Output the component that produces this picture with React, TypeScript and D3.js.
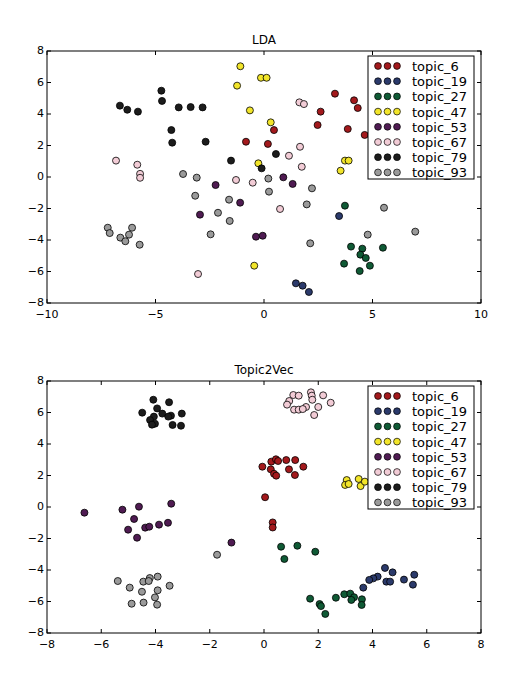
import React from 'react';
import * as d3 from 'd3';

type Pt = [number, number];

const TOPICS = ['topic_6', 'topic_19', 'topic_27', 'topic_47', 'topic_53', 'topic_67', 'topic_79', 'topic_93'];
const COLORS = ['#a3191c', '#2b3a6b', '#0f5a35', '#f2e52a', '#4f1b52', '#f2ccd6', '#1c1c1c', '#9a9a9a'];

// LDA projection
const LDA_6: Pt[] = [[-0.83, 2.24], [3.27, 5.29], [4.15, 4.87], [4.32, 4.38], [2.61, 4.15], [3.86, 3.05], [4.64, 2.67], [0.46, 2.98], [0.18, 2.1], [2.47, 3.3]];
const LDA_19: Pt[] = [[3.46, -2.48], [1.47, -6.75], [1.78, -6.9], [2.07, -7.3]];
const LDA_27: Pt[] = [[3.73, -1.82], [4.01, -4.42], [4.53, -4.55], [4.44, -4.93], [4.69, -5.14], [5.48, -4.49], [3.69, -5.5], [4.88, -5.63], [4.41, -5.97]];
const LDA_47: Pt[] = [[-1.09, 7.03], [-1.24, 5.8], [-0.65, 4.23], [-0.26, 0.87], [-0.14, 6.3], [0.12, 6.3], [0.31, 3.47], [3.73, 1.04], [3.9, 1.04], [3.53, 0.4], [-0.45, -5.63]];
const LDA_53: Pt[] = [[0.89, -0.02], [-2.23, -0.51], [-1.1, -1.63], [-2.95, -2.39], [1.32, -0.44], [-0.37, -3.79], [-0.06, -3.73]];
const LDA_67: Pt[] = [[-6.82, 1.04], [-5.84, 0.78], [-5.71, 0.2], [-5.71, -0.05], [-1.29, -0.19], [-0.52, -0.36], [-3.04, -6.16], [1.63, 4.74], [1.84, 4.63], [1.66, 1.92], [1.15, 1.35], [1.74, 0.65], [0.74, -2.03]];
const LDA_79: Pt[] = [[-6.64, 4.53], [-6.3, 4.27], [-5.81, 4.15], [-4.73, 5.48], [-4.7, 4.83], [-3.93, 4.42], [-3.38, 4.44], [-2.83, 4.42], [-4.27, 2.98], [-4.23, 2.18], [-2.69, 2.24], [-1.52, 1.04], [0.55, 1.46], [-0.11, 0.55]];
const LDA_93: Pt[] = [[-3.73, 0.19], [-3.1, -0.04], [-3.17, -1.19], [-1.61, -1.44], [-2.12, -2.27], [-1.58, -2.79], [-2.46, -3.64], [-7.2, -3.22], [-7.11, -3.56], [-6.08, -3.22], [-6.62, -3.85], [-6.22, -3.66], [-6.39, -4.08], [-5.73, -4.3], [2.21, -0.72], [1.97, -1.74], [5.53, -1.95], [4.78, -3.66], [6.97, -3.47], [2.13, -4.21], [0.2, -0.1], [0.23, -0.93]];

// Topic2Vec projection
const T2V_6: Pt[] = [[-0.06, 2.56], [0.27, 2.88], [0.44, 3.03], [0.52, 2.92], [0.82, 2.98], [1.15, 2.98], [0.25, 2.39], [0.37, 2.11], [0.45, 1.99], [0.92, 2.39], [1.45, 2.56], [1.14, 2.03], [0.04, 0.62], [0.32, -0.98], [0.32, -1.3]];
const T2V_19: Pt[] = [[4.46, -3.87], [4.74, -4.15], [5.54, -4.3], [4.19, -4.42], [4.03, -4.53], [3.88, -4.63], [4.51, -4.74], [4.65, -4.74], [5.16, -4.61], [5.49, -4.93], [3.66, -5.12]];
const T2V_27: Pt[] = [[0.63, -2.52], [1.23, -2.46], [1.89, -2.84], [0.75, -3.3], [1.7, -5.82], [2.05, -6.16], [2.1, -6.29], [2.26, -6.79], [2.65, -5.76], [2.96, -5.54], [3.18, -5.5], [3.32, -5.73], [3.22, -5.9], [3.61, -5.86], [3.6, -6.22]];
const T2V_47: Pt[] = [[3.05, 1.71], [2.99, 1.4], [3.12, 1.46], [3.49, 1.78], [3.56, 1.33], [3.72, 1.61]];
const T2V_53: Pt[] = [[-6.62, -0.36], [-5.22, -0.17], [-4.61, 0.02], [-3.42, 0.21], [-4.79, -0.76], [-5.01, -1.44], [-4.38, -1.31], [-4.23, -1.25], [-3.87, -1.12], [-3.54, -1.0], [-4.68, -1.95], [-1.2, -2.26]];
const T2V_67: Pt[] = [[1.08, 7.11], [1.28, 7.07], [1.73, 7.28], [1.76, 7.07], [2.18, 7.09], [1.78, 6.81], [0.93, 6.73], [2.46, 6.62], [0.85, 6.5], [1.55, 6.35], [2.0, 6.35], [1.11, 6.18], [1.28, 6.18], [1.43, 6.22], [1.85, 5.84]];
const T2V_79: Pt[] = [[-4.08, 6.81], [-3.5, 6.65], [-3.94, 6.26], [-4.49, 5.99], [-3.75, 5.93], [-4.06, 5.74], [-3.43, 5.8], [-3.03, 5.93], [-4.2, 5.52], [-4.02, 5.29], [-4.13, 5.23], [-3.37, 5.21], [-3.06, 5.16], [-3.53, 5.74]];
const T2V_93: Pt[] = [[-1.73, -3.03], [-5.39, -4.7], [-4.95, -5.12], [-4.45, -4.74], [-4.21, -4.51], [-4.25, -4.7], [-3.92, -4.42], [-3.48, -5.0], [-4.5, -5.38], [-3.92, -5.29], [-4.02, -5.74], [-4.88, -6.14], [-4.44, -6.07], [-3.94, -6.2]];

const LDA_SERIES = [LDA_6, LDA_19, LDA_27, LDA_47, LDA_53, LDA_67, LDA_79, LDA_93];
const T2V_SERIES = [T2V_6, T2V_19, T2V_27, T2V_47, T2V_53, T2V_67, T2V_79, T2V_93];

const LDA_XTICKS = [-10, -5, 0, 5, 10];
const T2V_XTICKS = [-8, -6, -4, -2, 0, 2, 4, 6, 8];
const YTICKS = [-8, -6, -4, -2, 0, 2, 4, 6, 8];

const FONT = 'DejaVu Sans, sans-serif';
const fmt = (v: number) => (v < 0 ? '\u2212' + Math.abs(v) : String(v));

const left = 47, right = 481;

function Panel({ top, title, xDomain, xTicks, series }: { top: number; title: string; xDomain: [number, number]; xTicks: number[]; series: Pt[][] }) {
  const bottom = top + 252;
  const x = d3.scaleLinear().domain(xDomain).range([left, right]);
  const y = d3.scaleLinear().domain([-8, 8]).range([bottom, top]);
  const lx = 368, ly = top + 5, lw = 106, lh = 123;
  return (
    <g>
      <text x={(left + right) / 2} y={top - 7} textAnchor="middle" fontSize={12} fontFamily={FONT}>{title}</text>
      {series.map((pts, i) => (
        <g key={i}>
          {pts.map((p, j) => (
            <circle key={j} cx={x(p[0])} cy={y(p[1])} r={3.5} fill={COLORS[i]} stroke="#000" strokeWidth={0.8} />
          ))}
        </g>
      ))}
      <rect x={left} y={top} width={right - left} height={bottom - top} fill="none" stroke="#000" strokeWidth={1} />
      {xTicks.map(t => (
        <g key={'x' + t}>
          <line x1={x(t)} x2={x(t)} y1={bottom} y2={bottom - 4} stroke="#000" />
          <line x1={x(t)} x2={x(t)} y1={top} y2={top + 4} stroke="#000" />
          <text x={x(t)} y={bottom + 15} textAnchor="middle" fontSize={11} fontFamily={FONT}>{fmt(t)}</text>
        </g>
      ))}
      {YTICKS.map(t => (
        <g key={'y' + t}>
          <line x1={left} x2={left + 4} y1={y(t)} y2={y(t)} stroke="#000" />
          <line x1={right} x2={right - 4} y1={y(t)} y2={y(t)} stroke="#000" />
          <text x={left - 3} y={y(t) + 3} textAnchor="end" fontSize={11} fontFamily={FONT}>{fmt(t)}</text>
        </g>
      ))}
      <rect x={lx} y={ly} width={lw} height={lh} fill="#fff" stroke="#000" strokeWidth={1} />
      {TOPICS.map((name, i) => {
        const cy = ly + 10 + i * 15.2;
        return (
          <g key={name}>
            {[0, 1, 2].map(k => (
              <circle key={k} cx={lx + 10 + k * 9.5} cy={cy} r={3.4} fill={COLORS[i]} stroke="#000" strokeWidth={0.7} />
            ))}
            <text x={lx + 44} y={cy + 5} fontSize={13} fontFamily={FONT}>{name}</text>
          </g>
        );
      })}
    </g>
  );
}

export default function App() {
  return (
    <svg width={526} height={692} style={{ position: 'absolute', left: 0, top: 0, background: '#fff' }}>
      <rect width={526} height={692} fill="#fff" />
      <Panel top={51} title="LDA" xDomain={[-10, 10]} xTicks={LDA_XTICKS} series={LDA_SERIES} />
      <Panel top={381} title="Topic2Vec" xDomain={[-8, 8]} xTicks={T2V_XTICKS} series={T2V_SERIES} />
    </svg>
  );
}
